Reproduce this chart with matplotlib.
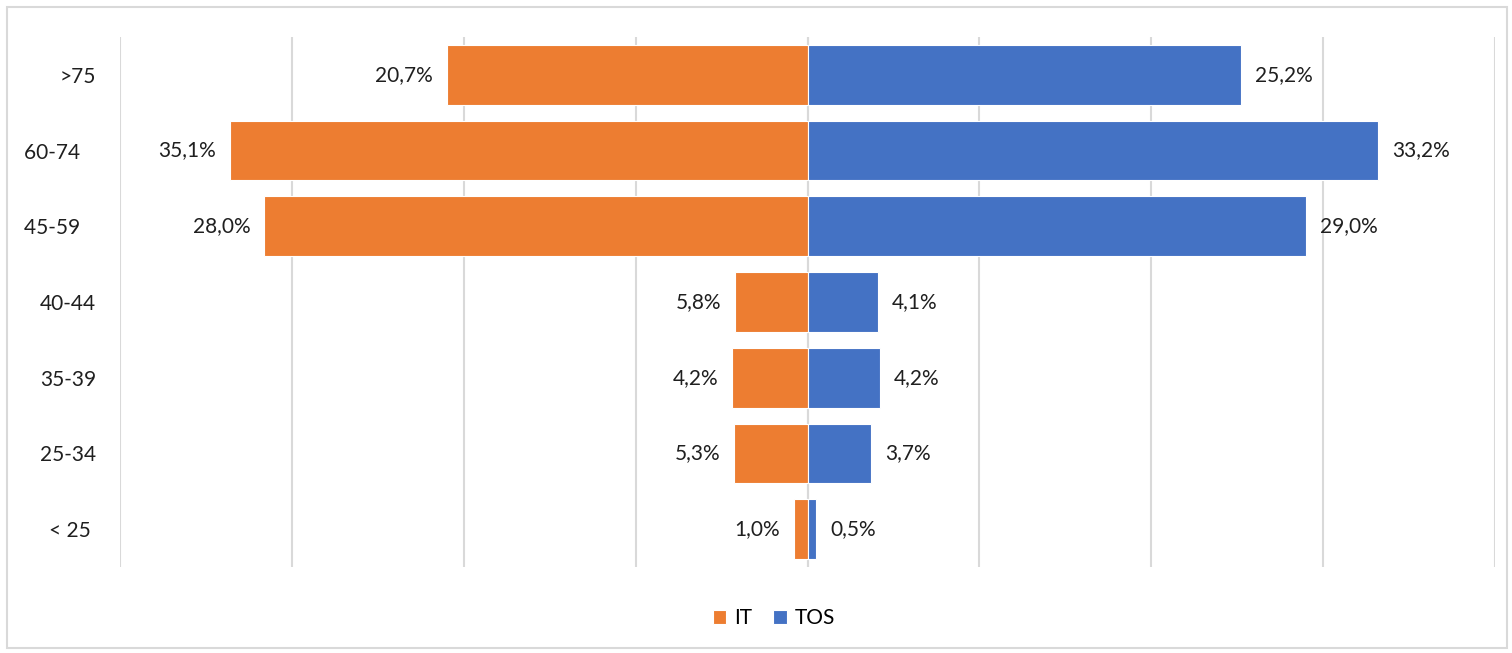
"""Age distribution pyramid, IT vs TOS"""

import matplotlib.pyplot as plt
from matplotlib.patches import Rectangle

plt.rcParams["font.family"] = ["Lato", "DejaVu Sans"]

# age groups, bottom to top
ages = ["< 25 ", "25-34", "35-39", "40-44", "45-59   ", "60-74   ", ">75"]

# bar lengths as drawn (%)
it_values = [0.8, 4.25, 4.4, 4.2, 31.6, 33.6, 21.0]
tos_values = [0.5, 3.7, 4.2, 4.1, 29.0, 33.2, 25.2]

# data labels as printed
it_labels = ["1,0%", "5,3%", "4,2%", "5,8%", "28,0%", "35,1%", "20,7%"]
tos_labels = ["0,5%", "3,7%", "4,2%", "4,1%", "29,0%", "33,2%", "25,2%"]

orange = "#ED7D31"
blue = "#4472C4"
grid = "#D9D9D9"
text = "#1F1F1F"

fig = plt.figure(figsize=(15.12, 6.53), dpi=100)
ax = fig.add_axes([120 / 1512, 1 - 567 / 653, 1375 / 1512, 530 / 653])

y = range(len(ages))
ax.barh(y, [-v for v in it_values], height=0.79, color=orange,
        edgecolor="white", linewidth=0.8, label="IT", zorder=2)
ax.barh(y, tos_values, height=0.79, color=blue,
        edgecolor="white", linewidth=0.8, label="TOS", zorder=2)

for i in y:
    ax.annotate(it_labels[i], (-it_values[i], i), xytext=(-10, 0),
                textcoords="offset points", ha="right", va="center",
                fontsize=15, color=text)
    ax.annotate(tos_labels[i], (tos_values[i], i), xytext=(10, 0),
                textcoords="offset points", ha="left", va="center",
                fontsize=15, color=text)

ax.set_xlim(-40, 40)
ax.set_ylim(-0.5, len(ages) - 0.5)
ax.set_xticks(range(-40, 41, 10))
ax.set_xticklabels([])
ax.set_yticks(list(y))
ax.set_yticklabels(ages, fontsize=15, color=text)
ax.tick_params(axis="y", length=0, pad=17)
ax.tick_params(axis="x", length=0)
ax.grid(axis="x", color=grid, linewidth=1.5, zorder=0)
ax.axvline(0, color=grid, linewidth=1.5, zorder=1)
for s in ax.spines.values():
    s.set_visible(False)

fig.legend(loc="center", bbox_to_anchor=(774 / 1512, 1 - 618 / 653),
           ncol=2, frameon=False, fontsize=15, handlelength=0.65,
           handleheight=0.65, handletextpad=0.4, columnspacing=1.0)

fig.patches.append(Rectangle((7 / 1512, 5 / 653), 1500 / 1512, 641 / 653,
                             transform=fig.transFigure, fill=False,
                             edgecolor=grid, linewidth=1.5))

plt.savefig("out.png", dpi=100)
